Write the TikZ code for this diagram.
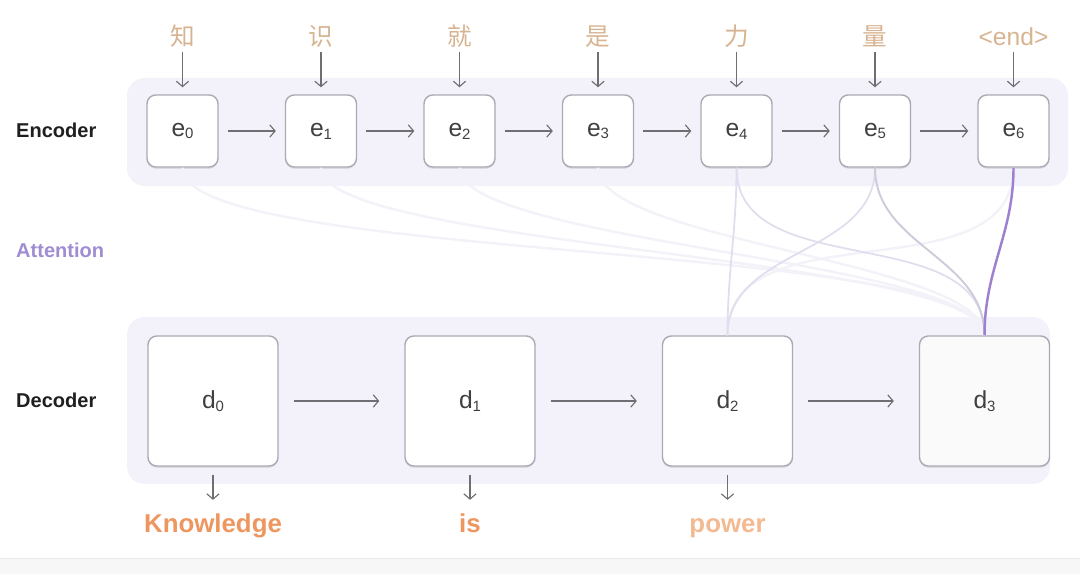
\documentclass[tikz,border=0pt]{standalone}
\usepackage{fontspec}
\setmainfont{Liberation Sans}
\newfontfamily\cjk{Noto Sans CJK SC}
\usetikzlibrary{arrows.meta,shadows}
\definecolor{bandfill}{RGB}{243,242,250}
\definecolor{boxline}{RGB}{170,170,180}
\definecolor{arrowgray}{RGB}{110,110,115}
\definecolor{intext}{RGB}{215,180,145}
\definecolor{outtext}{RGB}{238,150,95}
\definecolor{outpale}{RGB}{243,185,145}
\definecolor{attlabel}{RGB}{160,140,210}
\definecolor{attstrong}{RGB}{158,128,208}
\definecolor{attmid}{RGB}{224,221,238}
\definecolor{attfaint}{RGB}{243,242,249}
\newcommand{\lowidx}[1]{{\fontsize{8.5}{9}\selectfont\raisebox{-.35ex}{#1}}}
\tikzset{font=\fontsize{14}{16}\selectfont}
\tikzset{every node/.append style={transform shape=false}}
\tikzset{
  cell/.style={draw=boxline, fill=white, line width=.8pt, rounded corners=5pt,
    minimum width=1.42cm, minimum height=1.44cm, text=black!75,
    drop shadow={shadow xshift=0pt, shadow yshift=-1pt, opacity=.25, fill=black!40}},
  bigcell/.style={cell, minimum width=2.6cm, minimum height=2.6cm},
  token/.style={text=intext, text height=12pt, text depth=2pt, inner sep=1.5pt},
  word/.style={text=outtext, font=\fontsize{14.7}{16}\selectfont\bfseries,
    text height=11pt, text depth=3pt, inner sep=2pt},
  side/.style={anchor=west, font=\fontsize{11.4}{13}\selectfont\bfseries, text=black!88},
  flow/.style={-{Straight Barb[length=3pt,width=7pt]}, draw=arrowgray, line width=.65pt},
  attn/.style={out=-90, in=90, line width=1pt}
}

\begin{document}
\begin{tikzpicture}
\useasboundingbox (0,0) rectangle (21.6,11.48);
\fill[black!3] (0,0) rectangle (21.6,0.32);
\draw[black!8] (0,0.32)--(21.6,0.32);
% bands
\fill[bandfill, rounded corners=10pt] (2.54,7.76) rectangle (21.36,9.92);
\fill[bandfill, rounded corners=10pt] (2.54,1.8) rectangle (21,5.14);
\node[side] (enclab) at (0.2,8.88) {Encoder};
\node[side, text=attlabel] (attlab) at (0.2,6.48) {Attention};
\node[side] (declab) at (0.2,3.48) {Decoder};
% encoder
\node[cell] (e0) at (3.65,8.86) {e\lowidx{0}};
\node[cell] (e1) at (6.42,8.86) {e\lowidx{1}};
\node[cell] (e2) at (9.19,8.86) {e\lowidx{2}};
\node[cell] (e3) at (11.96,8.86) {e\lowidx{3}};
\node[cell] (e4) at (14.73,8.86) {e\lowidx{4}};
\node[cell] (e5) at (17.5,8.86) {e\lowidx{5}};
\node[cell] (e6) at (20.27,8.86) {e\lowidx{6}};
\node[token] (t0) at (3.65,10.74) {\cjk 知};
\node[token] (t1) at (6.42,10.74) {\cjk 识};
\node[token] (t2) at (9.19,10.74) {\cjk 就};
\node[token] (t3) at (11.96,10.74) {\cjk 是};
\node[token] (t4) at (14.73,10.74) {\cjk 力};
\node[token] (t5) at (17.5,10.74) {\cjk 量};
\node[token] (t6) at (20.27,10.74) {<end>};
% decoder
\node[bigcell] (d0) at (4.26,3.46) {d\lowidx{0}};
\node[bigcell] (d1) at (9.40,3.46) {d\lowidx{1}};
\node[bigcell] (d2) at (14.55,3.46) {d\lowidx{2}};
\node[bigcell, fill=black!2] (d3) at (19.69,3.46) {d\lowidx{3}};
\node[word] (w0) at (4.26,0.98) {Knowledge};
\node[word] (w1) at (9.40,0.98) {is};
\node[word, text=outpale] (w2) at (14.55,0.98) {power};
% attention
\draw[attn, attfaint, line width=1.4pt, looseness=.3] (e0.south) to (d3.north);
\draw[attn, attfaint, line width=1.4pt, looseness=.3] (e1.south) to (d3.north);
\draw[attn, attfaint, line width=1.4pt, looseness=.35] (e2.south) to (d3.north);
\draw[attn, attfaint, line width=1.4pt, looseness=.45] (e3.south) to (d3.north);
\draw[attn, attfaint, line width=1.4pt] (e6.south) to (d2.north);
\draw[attn, attmid] (e4.south) to (d2.north);
\draw[attn, attmid] (e5.south) to (d2.north);
\draw[attn, attmid] (e4.south) to (d3.north);
\draw[attn, attmid!92!black, line width=1.1pt] (e5.south) to (d3.north);
\draw[attn, attstrong, line width=1.4pt] (e6.south) to (d3.north);
% arrows
\draw[flow, shorten >=4pt] (t0) -- (e0);
\draw[flow, shorten >=4pt] (t1) -- (e1);
\draw[flow, shorten >=4pt] (t2) -- (e2);
\draw[flow, shorten >=4pt] (t3) -- (e3);
\draw[flow, shorten >=4pt] (t4) -- (e4);
\draw[flow, shorten >=4pt] (t5) -- (e5);
\draw[flow, shorten >=4pt] (t6) -- (e6);
\draw[flow, shorten <=.18cm, shorten >=.18cm] (e0) -- (e1);
\draw[flow, shorten <=.18cm, shorten >=.18cm] (e1) -- (e2);
\draw[flow, shorten <=.18cm, shorten >=.18cm] (e2) -- (e3);
\draw[flow, shorten <=.18cm, shorten >=.18cm] (e3) -- (e4);
\draw[flow, shorten <=.18cm, shorten >=.18cm] (e4) -- (e5);
\draw[flow, shorten <=.18cm, shorten >=.18cm] (e5) -- (e6);
\draw[flow, shorten <=.3cm, shorten >=.5cm] (d0) -- (d1);
\draw[flow, shorten <=.3cm, shorten >=.5cm] (d1) -- (d2);
\draw[flow, shorten <=.3cm, shorten >=.5cm] (d2) -- (d3);
\draw[flow, shorten <=.16cm, shorten >=.18cm] (d0) -- (w0);
\draw[flow, shorten <=.16cm, shorten >=.18cm] (d1) -- (w1);
\draw[flow, shorten <=.16cm, shorten >=.18cm] (d2) -- (w2);
\end{tikzpicture}
\end{document}
